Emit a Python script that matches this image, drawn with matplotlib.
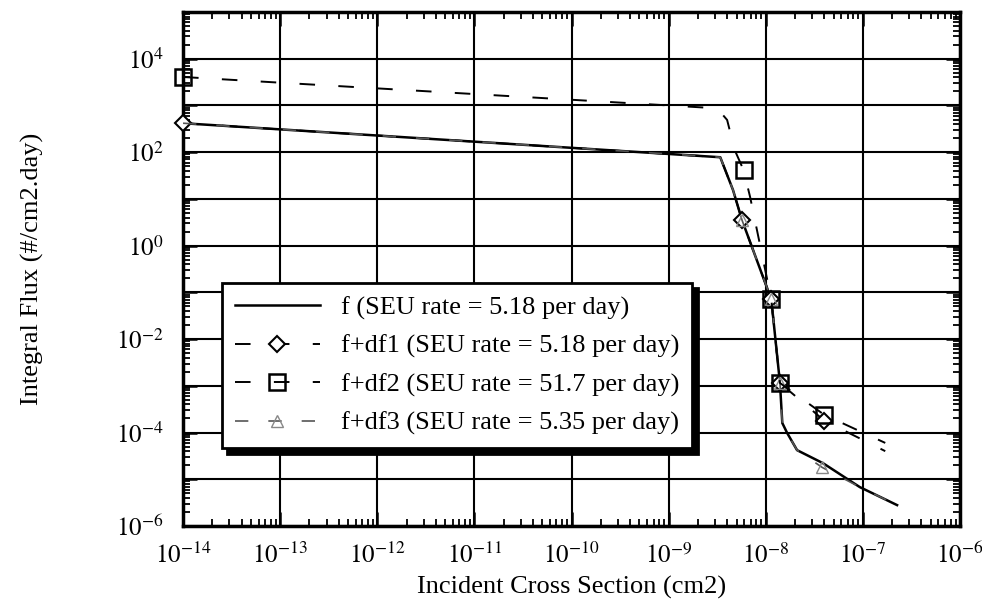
import numpy as np
import matplotlib.pyplot as plt
from matplotlib.ticker import FixedLocator, LogLocator, NullFormatter

plt.rcParams['font.family'] = ['Liberation Serif', 'DejaVu Serif']
plt.rcParams['mathtext.fontset'] = 'stix'
plt.rcParams['axes.unicode_minus'] = False

# curve f (solid) and f+df3 follow each other
x_f = [1e-14, 3.4e-9, 4.6e-9, 5.7e-9, 1.14e-8, 1.4e-8, 1.48e-8, 1.66e-8, 2.1e-8, 3.9e-8, 9.3e-8, 2.25e-7]
y_f = [417, 78, 15.5, 3.5, 0.071, 1.15e-3, 1.6e-4, 9.8e-5, 4.2e-5, 2.2e-5, 6.8e-6, 2.8e-6]

# f+df1 (diamonds)
x_df1 = [1e-14, 3.4e-9, 4.6e-9, 5.7e-9, 1.14e-8, 1.4e-8, 4.0e-8, 1.7e-7]
y_df1 = [417, 78, 15.5, 3.5, 0.071, 1.15e-3, 1.8e-4, 4.0e-5]
mk_df1 = [0, 3, 4, 5, 6]

# f+df2 (squares)
x_df2 = [1e-14, 3.16e-9, 4.0e-9, 4.8e-9, 5.9e-9, 6.9e-9, 1.14e-8, 1.4e-8, 4.0e-8, 1.7e-7]
y_df2 = [4070, 870, 490, 110, 41.7, 11, 0.071, 1.15e-3, 2.4e-4, 6.0e-5]
mk_df2 = [0, 4, 6, 7, 8]

# f+df3 (triangles)
x_df3 = [1e-14, 3.4e-9, 4.6e-9, 5.7e-9, 1.14e-8, 1.4e-8, 1.48e-8, 1.66e-8, 2.1e-8, 3.8e-8, 9.3e-8, 2.25e-7]
y_df3 = [417, 78, 15.5, 3.5, 0.071, 1.15e-3, 1.6e-4, 9.8e-5, 4.2e-5, 1.8e-5, 6.8e-6, 2.8e-6]
mk_df3 = [3, 4, 5, 9]

labels = ['f (SEU rate = 5.18 per day)',
          'f+df1 (SEU rate = 5.18 per day)',
          'f+df2 (SEU rate = 51.7 per day)',
          'f+df3 (SEU rate = 5.35 per day)']

x_exp = list(range(-14, -5))
y_exp = list(range(-6, 6))

fig = plt.figure(figsize=(9.82, 6.10), dpi=100)
ax = fig.add_axes([0.1864, 0.1377, 0.7912, 0.8426])

dash = (0, (8, 12))
ax.plot(x_f, y_f, color='black', lw=1.8, label=labels[0], zorder=3)
ax.plot(x_df1, y_df1, color='black', lw=1.4, ls=dash, marker='D', markersize=8,
        markerfacecolor='white', markeredgewidth=1.5, markevery=mk_df1,
        label=labels[1], zorder=4, clip_on=False)
ax.plot(x_df2, y_df2, color='black', lw=1.4, ls=dash, marker='s', markersize=11,
        markerfacecolor='none', markeredgewidth=1.8, markevery=mk_df2,
        label=labels[2], zorder=5, clip_on=False)
ax.plot(x_df3, y_df3, color='#555555', lw=1.2, ls=dash, marker='^', markersize=9,
        markerfacecolor='none', markeredgecolor='#888888', markeredgewidth=1.0,
        markevery=mk_df3, label=labels[3], zorder=4)

ax.set_xscale('log')
ax.set_yscale('log')
ax.set_xlim(1e-14, 1e-6)
ax.set_ylim(1e-6, 1e5)

ax.xaxis.set_major_locator(FixedLocator([10.0 ** e for e in x_exp]))
ax.set_xticklabels([r'$10^{%d}$' % e for e in x_exp])
ax.yaxis.set_major_locator(FixedLocator([10.0 ** e for e in y_exp]))
ax.set_yticklabels([r'$10^{%d}$' % e if e % 2 == 0 and e < 5 else '' for e in y_exp])
for a in (ax.xaxis, ax.yaxis):
    a.set_minor_locator(LogLocator(base=10, subs=np.arange(2, 10), numticks=30))
    a.set_minor_formatter(NullFormatter())

ax.tick_params(which='both', direction='in', top=True, right=True, colors='black',
               labelsize=18)
ax.tick_params(which='major', length=10, width=1.8)
ax.tick_params(axis='x', which='major', pad=12)
ax.tick_params(axis='y', which='major', pad=14)
ax.tick_params(which='minor', length=5, width=1.3)
ax.grid(True, which='major', color='black', lw=1.5)
for s in ax.spines.values():
    s.set_linewidth(2.5)

ax.set_xlabel('Incident Cross Section (cm2)', fontsize=19, labelpad=6)
ax.set_ylabel('Integral Flux (#/cm2.day)', fontsize=19, labelpad=52)

leg = ax.legend(loc='upper left', bbox_to_anchor=(0.05, 0.473), borderaxespad=0,
                fontsize=19, handlelength=3.2, labelspacing=0.55, borderpad=0.5,
                fancybox=False, framealpha=1, edgecolor='black',
                shadow={'color': 'black', 'alpha': 1, 'ox': 4, 'oy': -4})
leg.get_frame().set_linewidth(2)

fig.savefig('out.png', dpi=100)
